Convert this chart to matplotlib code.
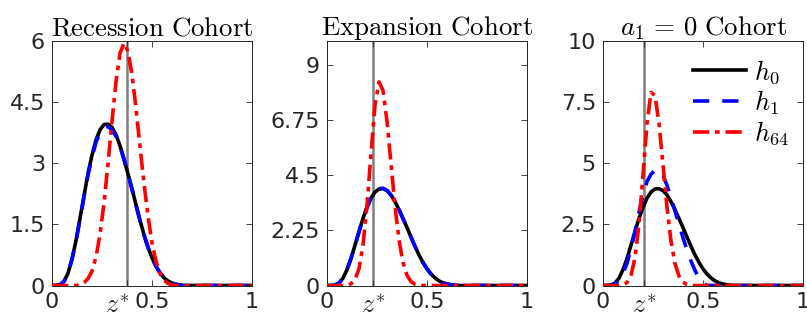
import numpy as np
import matplotlib
matplotlib.use("Agg")
import matplotlib.pyplot as plt
import matplotlib.transforms as mtransforms

plt.rcParams['mathtext.fontset'] = 'cm'
plt.rcParams['font.family'] = ['DejaVu Sans']

# grid of productivity values (0 .. 0.70 every 0.02, then 1)
z = [0.00, 0.02, 0.04, 0.06, 0.08, 0.10, 0.12, 0.14, 0.16, 0.18,
     0.20, 0.22, 0.24, 0.26, 0.28, 0.30, 0.32, 0.34, 0.36, 0.38,
     0.40, 0.42, 0.44, 0.46, 0.48, 0.50, 0.52, 0.54, 0.56, 0.58,
     0.60, 0.62, 0.64, 0.66, 0.68, 0.70, 1.00]

# initial distribution, same in every cohort
h0 = [0, 0, 0.02, 0.10, 0.30, 0.65, 1.10, 1.65, 2.20, 2.75,
      3.20, 3.57, 3.82, 3.95, 3.96, 3.88, 3.70, 3.43, 3.10, 2.74,
      2.37, 1.98, 1.60, 1.25, 0.94, 0.68, 0.47, 0.31, 0.19, 0.11,
      0.06, 0.03, 0.01, 0, 0, 0, 0]

# recession cohort
h1_rec = [0, 0, 0.02, 0.10, 0.30, 0.64, 1.08, 1.62, 2.17, 2.71,
          3.15, 3.51, 3.76, 3.88, 3.90, 3.82, 3.66, 3.41, 3.09, 2.73,
          2.36, 1.97, 1.59, 1.24, 0.93, 0.68, 0.47, 0.31, 0.19, 0.11,
          0.06, 0.03, 0.01, 0, 0, 0, 0]
h64_rec = [0, 0, 0, 0, 0, 0, 0, 0.02, 0.07, 0.17,
           0.35, 0.70, 1.25, 2.02, 2.98, 4.03, 5.00, 5.70, 5.95, 5.74,
           5.18, 4.35, 3.41, 2.50, 1.71, 1.05, 0.60, 0.30, 0.13, 0.05,
           0.01, 0, 0, 0, 0, 0, 0]

# expansion cohort
h1_exp = [0, 0, 0.02, 0.10, 0.30, 0.65, 1.10, 1.65, 2.20, 2.75,
          3.20, 3.57, 3.83, 3.96, 3.98, 3.89, 3.70, 3.43, 3.10, 2.74,
          2.37, 1.98, 1.60, 1.25, 0.94, 0.68, 0.47, 0.31, 0.19, 0.11,
          0.06, 0.03, 0.01, 0, 0, 0, 0]
h64_exp = [0, 0, 0, 0, 0, 0.01, 0.07, 0.24, 0.68, 1.65,
           3.27, 5.39, 7.37, 8.33, 7.98, 6.72, 4.98, 3.25, 1.86, 0.94,
           0.42, 0.16, 0.05, 0.01, 0, 0, 0, 0, 0, 0,
           0, 0, 0, 0, 0, 0, 0]

# a1 = 0 cohort
h1_a0 = [0, 0, 0, 0.05, 0.20, 0.50, 0.90, 1.50, 2.20, 3.00,
         3.70, 4.25, 4.55, 4.72, 4.72, 4.50, 4.10, 3.60, 3.05, 2.50,
         1.95, 1.45, 1.00, 0.62, 0.30, 0.08, 0.01, 0, 0, 0,
         0, 0, 0, 0, 0, 0, 0]
h64_a0 = [0, 0, 0, 0, 0, 0.03, 0.12, 0.42, 1.13, 2.51,
          4.52, 6.62, 7.90, 7.77, 6.64, 4.94, 3.21, 1.82, 0.90, 0.38,
          0.14, 0.04, 0.01, 0, 0, 0, 0, 0, 0, 0,
          0, 0, 0, 0, 0, 0, 0]

titles = [r'$\mathrm{Recession\ Cohort}$', r'$\mathrm{Expansion\ Cohort}$',
          r'$a_1 \,=\, 0\ \mathrm{Cohort}$']
zstar = [0.375, 0.232, 0.206]
h1_all = [h1_rec, h1_exp, h1_a0]
h64_all = [h64_rec, h64_exp, h64_a0]
ytick_vals = [[0, 1.5, 3, 4.5, 6], [0, 2.25, 4.5, 6.75, 9], [0, 2.5, 5, 7.5, 10]]
ytick_labels = [['0', '1.5', '3', '4.5', '6'], ['0', '2.25', '4.5', '6.75', '9'],
                ['0', '2.5', '5', '7.5', '10']]
ymax = [6, 10, 10]

fig = plt.figure(figsize=(8.07, 3.2), dpi=100)
lefts = [52, 327, 603]
axc = '#262626'

for k in range(3):
    ax = fig.add_axes([lefts[k] / 807, 34.5 / 320, 200 / 807, 244.5 / 320])
    ax.axvline(zstar[k], color='#7f7f7f', lw=1.8, zorder=1)
    ax.plot(z, h0, color='k', lw=2.6, label=r'$h_0$', zorder=2)
    ax.plot(z, h1_all[k], color='#0000ff', lw=2.6, dashes=(4.5, 3.6), label=r'$h_1$', zorder=3)
    ax.plot(z, h64_all[k], color='#ff0000', lw=2.6, dashes=(4.5, 1.6, 1.3, 1.6),
            label=r'$h_{64}$', zorder=4)
    ax.set_xlim(0, 1)
    ax.set_ylim(0, ymax[k])
    ax.set_xticks([0, zstar[k], 0.5, 1])
    ax.set_xticklabels(['0', r'$z^{*}$', '0.5', '1'])
    ax.set_yticks(ytick_vals[k])
    ax.set_yticklabels(ytick_labels[k])
    ax.tick_params(direction='in', length=4, width=0.6, top=True, right=True,
                   labelsize=16, colors=axc, pad=5)
    zlab = ax.get_xticklabels()[1]
    zlab.set_fontsize(19)
    if k == 0:
        # matlab nudged this one left so it does not run into 0.5
        zlab.set_transform(zlab.get_transform() +
                           mtransforms.ScaledTranslation(-0.1, 0, fig.dpi_scale_trans))
    for s in ax.spines.values():
        s.set_color(axc)
        s.set_linewidth(0.7)
    ax.set_title(titles[k], fontsize=19.3, pad=4)
    if k == 2:
        ax.legend(loc='upper left', frameon=False, fontsize=19, handlelength=2.0,
                  labelspacing=0.1, handletextpad=0.3, borderpad=0, borderaxespad=0,
                  bbox_to_anchor=(0.45, 0.93))

fig.savefig('out.png', dpi=100)
